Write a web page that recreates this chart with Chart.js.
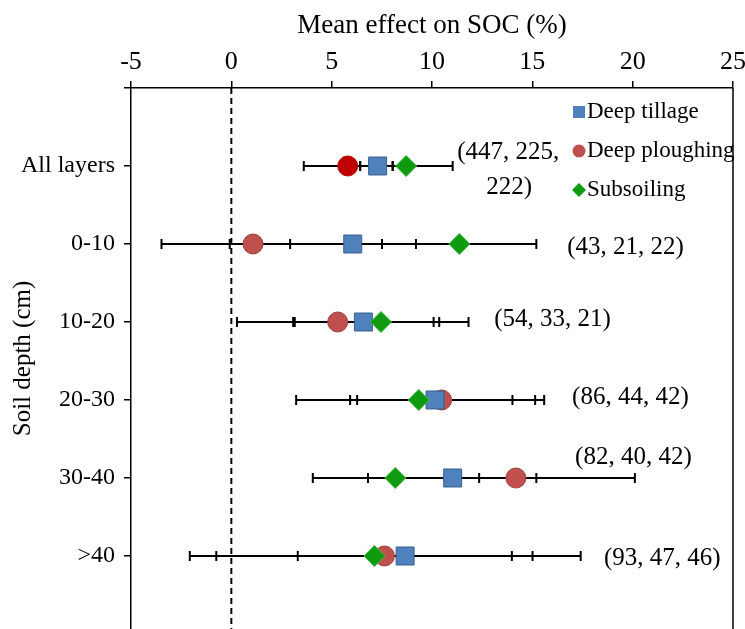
<!DOCTYPE html>
<html>
<head>
<meta charset="utf-8">
<script src="https://cdn.jsdelivr.net/npm/chart.js@4.4.1/dist/chart.umd.min.js"></script>
<style>
html,body{margin:0;padding:0;background:#fff;overflow:hidden}
canvas{display:block}
</style>
</head>
<body>
<canvas id="c" width="745" height="629"></canvas>
<script>
// ---- data ----
const categories = ['All layers', '0-10', '10-20', '20-30', '30-40', '>40'];
const xTickValues = [-5, 0, 5, 10, 15, 20, 25];
const seriesNames = ['Deep tillage', 'Deep ploughing', 'Subsoiling'];

const tillageMean = [7.29, 6.05, 6.58, 10.15, 11.03, 8.66];
const tillageLow  = [6.42, 2.93, 3.16, 6.27, 6.81, 3.31];
const tillageHigh = [8.04, 9.20, 10.08, 14.01, 15.20, 13.98];

const ploughMean = [5.80, 1.08, 5.30, 10.48, 14.18, 7.63];
const ploughLow  = [3.61, -3.48, 0.28, 5.92, 8.30, -0.75];
const ploughHigh = [8.04, 7.51, 10.36, 15.14, 20.11, 15.01];

const subsoilMean = [8.71, 11.36, 7.46, 9.34, 8.17, 7.13];
const subsoilLow  = [6.42, -0.08, 3.08, 3.23, 4.06, -2.07];
const subsoilHigh = [11.03, 15.20, 11.82, 15.59, 12.35, 17.41];

const sampleSizeText = ['(447, 225,', '222)', '(43, 21, 22)', '(54, 33, 21)', '(86, 44, 42)', '(82, 40, 42)', '(93, 47, 46)'];
// anchor of each sample-size label in data units (x value of left edge, row position)
const sampleSizeX   = [11.26, 12.70, 16.74, 13.10, 16.98, 17.13, 18.57];
const sampleSizeRow = [0.82, 1.27, 2.04, 2.97, 3.97, 4.74, 6.03];

// ---- styling ----
const FONT = "'Liberation Serif','Times New Roman',serif";
const BLUE = '#4F81BD', BLUE_B = '#385D8A';
const RED = '#C0504D', RED_DARK = '#C00000', RED_B = '#A0403D';
const GREEN = '#109A10', GREEN_B = '#40B840';
const Y_MAX = 6.936;

const toPoints = arr => arr.map((v, i) => ({ x: v, y: i + 1 }));

const bgPlugin = {
  id: 'bg',
  beforeDraw(chart) {
    const ctx = chart.ctx;
    ctx.save();
    ctx.fillStyle = '#fff';
    ctx.fillRect(0, 0, chart.width, chart.height);
    ctx.restore();
  }
};

const errorBarPlugin = {
  id: 'errorBars',
  beforeDatasetsDraw(chart) {
    const { ctx, chartArea: a, scales: { x, y } } = chart;
    ctx.save();
    const x0 = x.getPixelForValue(0);
    ctx.strokeStyle = '#000';
    ctx.lineWidth = 2;
    ctx.setLineDash([6, 4]);
    ctx.beginPath();
    ctx.moveTo(x0, a.top);
    ctx.lineTo(x0, a.bottom);
    ctx.stroke();
    ctx.setLineDash([]);
    ctx.lineWidth = 2;
    chart.data.datasets.forEach(ds => {
      ds.lo.forEach((lo, i) => {
        const yy = y.getPixelForValue(i + 1);
        const xl = x.getPixelForValue(lo);
        const xh = x.getPixelForValue(ds.hi[i]);
        ctx.beginPath();
        ctx.moveTo(xl, yy); ctx.lineTo(xh, yy);
        ctx.moveTo(xl, yy - 5); ctx.lineTo(xl, yy + 5);
        ctx.moveTo(xh, yy - 5); ctx.lineTo(xh, yy + 5);
        ctx.stroke();
      });
    });
    ctx.restore();
  }
};

const overlayPlugin = {
  id: 'overlay',
  afterDraw(chart) {
    const { ctx, chartArea: a, scales: { x, y } } = chart;
    ctx.save();
    ctx.strokeStyle = '#000';
    ctx.lineWidth = 1.5;
    ctx.beginPath();
    ctx.moveTo(a.right, a.top);
    ctx.lineTo(a.right, a.bottom);
    ctx.stroke();
    ctx.fillStyle = '#000';
    ctx.font = '25px ' + FONT;
    ctx.textAlign = 'left';
    ctx.textBaseline = 'middle';
    sampleSizeText.forEach((t, i) => {
      ctx.fillText(t, x.getPixelForValue(sampleSizeX[i]), y.getPixelForValue(sampleSizeRow[i]));
    });
    const lx = a.right - 154;
    const rows = [a.top + 24, a.top + 63, a.top + 102];
    ctx.font = '23px ' + FONT;
    chart.data.datasets.slice().sort((p, q) => p.legendIndex - q.legendIndex).forEach((ds, k) => {
      const yy = rows[k];
      ctx.fillStyle = ds.legendColor;
      ctx.beginPath();
      if (ds.pointStyle === 'rect') {
        ctx.rect(lx - 6, yy - 6, 12, 12);
      } else if (ds.pointStyle === 'circle') {
        ctx.arc(lx, yy, 6.5, 0, Math.PI * 2);
      } else {
        ctx.moveTo(lx - 7, yy); ctx.lineTo(lx, yy - 7); ctx.lineTo(lx + 7, yy); ctx.lineTo(lx, yy + 7); ctx.closePath();
      }
      ctx.fill();
      ctx.fillStyle = '#000';
      ctx.fillText(ds.label, lx + 8, yy);
    });
    ctx.restore();
  }
};

new Chart(document.getElementById('c'), {
  type: 'scatter',
  data: {
    datasets: [
      {
        label: seriesNames[0], legendIndex: 0, legendColor: BLUE,
        data: toPoints(tillageMean), lo: tillageLow, hi: tillageHigh,
        pointStyle: 'rect', pointRadius: 12.7, pointHoverRadius: 12.7,
        backgroundColor: BLUE, borderColor: BLUE_B, borderWidth: 1, order: 1
      },
      {
        label: seriesNames[1], legendIndex: 1, legendColor: RED,
        data: toPoints(ploughMean), lo: ploughLow, hi: ploughHigh,
        pointStyle: 'circle', pointRadius: 10, pointHoverRadius: 10,
        backgroundColor: ploughMean.map((v, i) => i === 0 ? RED_DARK : RED),
        borderColor: ploughMean.map((v, i) => i === 0 ? RED_DARK : RED_B), borderWidth: 1, order: 2
      },
      {
        label: seriesNames[2], legendIndex: 2, legendColor: GREEN,
        data: toPoints(subsoilMean), lo: subsoilLow, hi: subsoilHigh,
        pointStyle: 'rectRot', pointRadius: 10.5, pointHoverRadius: 10.5,
        backgroundColor: GREEN, borderColor: GREEN_B, borderWidth: 1, order: 0
      }
    ]
  },
  options: {
    responsive: false,
    animation: false,
    events: [],
    layout: { autoPadding: false, padding: { left: 0, right: 12, top: 0, bottom: 0 } },
    plugins: { legend: { display: false }, tooltip: { enabled: false } },
    scales: {
      x: {
        type: 'linear', position: 'top', min: -5, max: 25,
        afterBuildTicks: s => { s.ticks = xTickValues.map(v => ({ value: v })); },
        afterFit: s => { s.height = 88; s.paddingLeft = 0; s.paddingRight = 0; },
        ticks: { font: { family: FONT, size: 26 }, color: '#000', padding: 3, maxRotation: 0, autoSkip: false },
        grid: { drawOnChartArea: false, drawTicks: true, tickLength: 7, color: '#000', lineWidth: 1.5 },
        border: { display: true, color: '#000', width: 1.5 },
        title: { display: true, text: 'Mean effect on SOC (%)', font: { family: FONT, size: 27 }, color: '#000', padding: { top: 10, bottom: 0 } }
      },
      y: {
        type: 'linear', reverse: true, min: 0, max: Y_MAX,
        afterBuildTicks: s => { s.ticks = [0, 1, 2, 3, 4, 5, 6].map(v => ({ value: v })); },
        afterFit: s => { s.width = 131; s.paddingTop = 0; s.paddingBottom = 0; },
        ticks: { callback: v => categories[v - 1] || '', font: { family: FONT, size: 24 }, color: '#000', padding: 9, autoSkip: false },
        grid: { drawOnChartArea: false, drawTicks: true, tickLength: 7, color: '#000', lineWidth: 1.5 },
        border: { display: true, color: '#000', width: 1.5 },
        title: { display: true, text: 'Soil depth (cm)', font: { family: FONT, size: 25 }, color: '#000', padding: { top: 8, bottom: 0 } }
      }
    }
  },
  plugins: [bgPlugin, errorBarPlugin, overlayPlugin]
});
</script>
</body>
</html>
